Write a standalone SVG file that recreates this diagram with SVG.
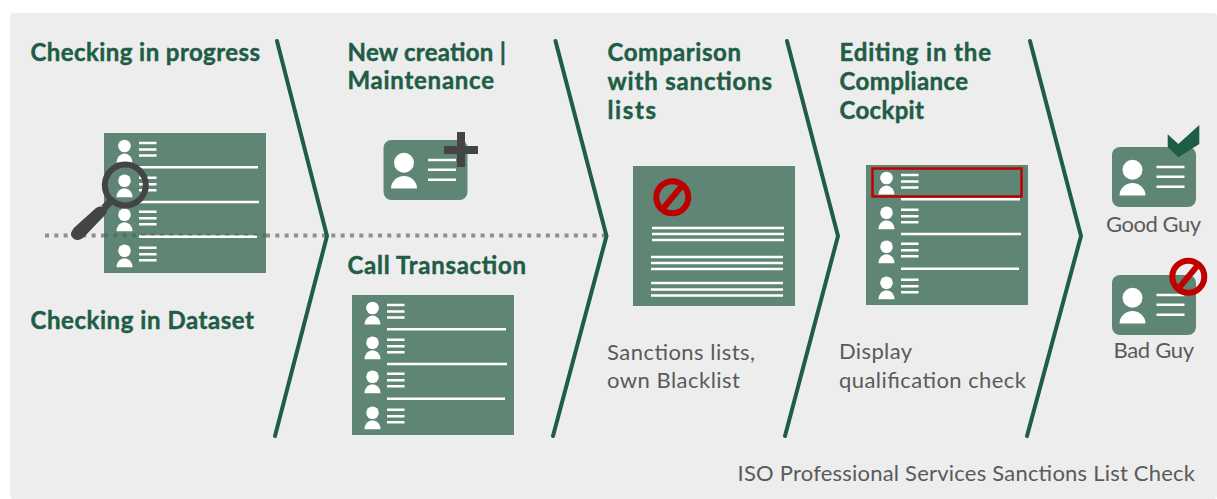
<svg xmlns="http://www.w3.org/2000/svg" xmlns:xlink="http://www.w3.org/1999/xlink" width="1217" height="499" viewBox="0 0 1217 499">
<style>
.t{font-family:Lato,"Noto Sans","Liberation Sans",sans-serif;font-weight:700;font-size:24px;fill:#1f5d46;stroke:#1f5d46;stroke-width:.45px}
.b{font-family:Lato,"Noto Sans","Liberation Sans",sans-serif;font-size:22px;fill:#5a5a5a}
.w{stroke:#fff;fill:none}
.chev{fill:none;stroke:#1f5d46;stroke-width:4;stroke-linejoin:miter;stroke-linecap:round}
.no{fill:none;stroke:#c00000;stroke-width:6}
.panel{fill:#5f8575}
</style>
<defs>
<g id="person"><circle cx="0" cy="0" r="6.300" fill="#fff"/><path d="M-8 16.500a8 9 0 0 1 16 0z" fill="#fff"/></g>
<g id="row"><use xlink:href="#person"/><path class="w" stroke-width="2.400" d="M14.500-3h17.500M14.500 3.500h17.500M14.500 9.500h17.500"/></g>
<g id="list">
<rect class="panel" width="162" height="140"/>
<use xlink:href="#row" x="20.500" y="13"/><use xlink:href="#row" x="20.500" y="47.700"/><use xlink:href="#row" x="20.500" y="81.700"/><use xlink:href="#row" x="20.500" y="117.700"/>
<path class="w" stroke-width="2.600" d="M35 34.300h119M35 69h120M35 103.700h118"/>
</g>
<g id="card">
<rect class="panel" width="84" height="60" rx="8"/>
<circle cx="20.500" cy="22.700" r="10" fill="#fff"/>
<path d="M7.500 48.500a13 12.500 0 0 1 26 0z" fill="#fff"/>
<path class="w" stroke-width="2.500" d="M44.500 20h28M44.500 29.700h28M44.500 39.700h28"/>
</g>
<g id="nosign"><circle r="16" class="no"/><path class="no" d="M-10 12L10-12"/></g>
</defs>
<rect id="background" x="10" y="13" width="1207" height="486" rx="4" fill="#ededed"/>
<g id="panel-dataset"><use xlink:href="#list" x="104" y="133"/></g>
<g id="connectors">
<path d="M45 235.500H104M266 235.500H605" fill="none" stroke="#8e8e8e" stroke-width="4" stroke-dasharray="4 5.330"/>
<path d="M104 235.500H266" fill="none" stroke="#4b7362" stroke-width="4" stroke-dasharray="4 5.330"/>
<path class="w" stroke-width="2.600" d="M139 236.700h118"/>
<path class="chev" d="M277 41L327 236L275 436"/>
<path class="chev" d="M555.500 41L606.500 236L553 436"/>
<path class="chev" d="M787 41L838 236L785 436"/>
<path class="chev" d="M1030 41L1081 236L1027 436"/>
</g>
<g id="magnifier" fill="none" stroke="#444">
<circle cx="125.300" cy="185" r="20.500" stroke-width="6"/>
<path d="M104 208L110 202" stroke-width="7"/>
<path d="M76 235L102 209" fill="#444" stroke="none"/>
<path d="M100 206.500Q106 206 107 211Q107 213 105 215L85 236Q79 242 74 239Q69 235 72 231Q73 228 76 226L96 208Q98 206.500 100 206.500z" fill="#444" stroke="none"/>
</g>
<g id="step-1"><text class="t" x="30.500" y="61" textLength="229.500">Checking in progress</text><text class="t" x="30.500" y="329" textLength="223.500">Checking in Dataset</text></g>
<g id="step-2"><text class="t" x="347.500" y="61" textLength="158.500">New creation |</text><text class="t" x="347.500" y="89" textLength="146.500">Maintenance</text><text class="t" x="347.500" y="274" textLength="178.500">Call Transaction</text></g>
<g id="new-card"><use xlink:href="#card" x="383.500" y="140"/><path fill="#444" d="M457 132h8v14h13v8h-13v13h-8v-13h-13v-8h13z"/></g>
<g id="panel-call"><use xlink:href="#list" x="352" y="295"/></g>
<g id="step-3"><text class="t" x="607.500" y="61" textLength="133.500">Comparison</text><text class="t" x="607.500" y="90" textLength="164.500">with sanctions</text><text class="t" x="607.500" y="119" textLength="48.500">lists</text>
<text class="b" x="607" y="360" textLength="148">Sanctions lists,</text><text class="b" x="607" y="388" textLength="133">own Blacklist</text></g>
<g id="panel-sanctions"><rect class="panel" x="633" y="166" width="162" height="140"/>
<use xlink:href="#nosign" x="672.300" y="197.300"/>
<path class="w" stroke-width="2.600" d="M652 228h132M652 234h132M652 240h132M651 257h132M651 263h132M651 269h132M651 283h132M651 289.500h132M651 295.500h132"/></g>
<g id="step-4"><text class="t" x="839.500" y="61" textLength="151.500">Editing in the</text><text class="t" x="839.500" y="90" textLength="128.500">Compliance</text><text class="t" x="839.500" y="119" textLength="84.500">Cockpit</text>
<text class="b" x="839" y="359" textLength="73">Display</text><text class="b" x="839" y="388" textLength="187">qualification check</text></g>
<g id="panel-compliance"><use xlink:href="#list" x="866" y="165"/><rect x="872.500" y="168.500" width="149" height="28" fill="none" stroke="#c00000" stroke-width="2.500"/></g>
<g id="good-guy"><use xlink:href="#card" x="1112" y="147"/><path fill="#1f5d46" d="M1167.700 134.300L1178.300 144L1199.300 125V144L1178.300 157.300L1167.700 147z"/><text class="b" x="1106" y="232" textLength="95">Good Guy</text></g>
<g id="bad-guy"><use xlink:href="#card" x="1112" y="275"/><use xlink:href="#nosign" x="1188.300" y="276.700"/><text class="b" x="1113.500" y="358" textLength="80.500">Bad Guy</text></g>
<text class="b" x="737.500" y="481" textLength="457.500">ISO Professional Services Sanctions List Check</text>
</svg>
